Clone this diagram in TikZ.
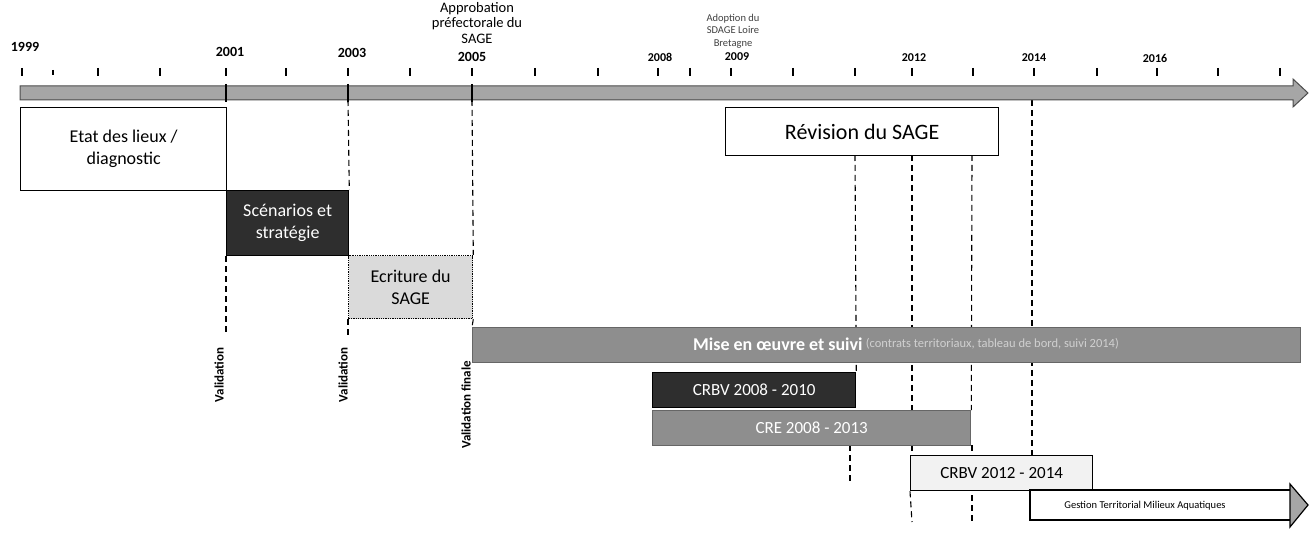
\documentclass[tikz,border=0pt]{standalone}
\usepackage{fontspec}
\setmainfont{Carlito}
\usetikzlibrary{calc,backgrounds}
\definecolor{barcol}{HTML}{A6A6A6}
\definecolor{darkbox}{HTML}{2E2E2E}
\definecolor{midbox}{HTML}{8E8E8E}
\definecolor{lightbox}{HTML}{DADADA}
\definecolor{paletext}{HTML}{D0D0D0}
\tikzset{
  box/.style={draw=black, line width=1.3pt, inner sep=0pt, anchor=north west, align=center},
  guide/.style={draw=black, line width=1.1pt, dash pattern=on 6pt off 4pt},
  year/.style={font=\bfseries\fontsize{14}{14}\selectfont, inner sep=0pt},
  smallyear/.style={font=\bfseries\fontsize{12}{12}\selectfont, inner sep=0pt},
  tickmark/.style={line width=1.3pt},
  valid/.style={rotate=90, font=\bfseries\fontsize{13}{13}\selectfont, inner sep=0pt},
  boxtext/.style={font=\fontsize{18}{22}\selectfont},
}
\begin{document}
\begin{tikzpicture}[x=1pt,y=-1pt]
\useasboundingbox (0,0) rectangle (1315,537);
% timeline arrow
\filldraw[fill=barcol, draw=black!70, line width=1pt]
  (20,86) -- (1293,86) -- (1293,79) -- (1308,93) -- (1293,107) -- (1293,100) -- (20,100) -- cycle;
% ticks
\foreach \x in {22,98,160,226,286,348,410,472,535,598,658,690,731,793,855,912,973,1034,1097,1157,1218,1280}
  \draw[tickmark] (\x,68) -- (\x,76);
\draw[tickmark] (53,70) -- (53,75);
\foreach \x in {226,348,472}
  \draw[line width=1.5pt] (\x,84) -- (\x,102);
% year labels
\node[year] (y1999) at (25,47) {1999};
\node[year] (y2001) at (230,52) {2001};
\node[year] (y2003) at (352,53) {2003};
\node[year] (y2005) at (472,57) {2005};
\node[smallyear] (y2008) at (660,57) {2008};
\node[smallyear] (y2009) at (737,57) {2009};
\node[smallyear] (y2012) at (914,58) {2012};
\node[smallyear] (y2014) at (1034,58) {2014};
\node[smallyear] (y2016) at (1155,58) {2016};
% top annotations
\node[font=\fontsize{14.5}{15.5}\selectfont, align=center, inner sep=0pt] (appro) at (477,23)
  {Approbation\\préfectorale du\\SAGE};
\node[font=\fontsize{10.5}{12.5}\selectfont, align=center, inner sep=0pt, text=black!75] (sdage) at (733,31)
  {Adoption du\\SDAGE Loire\\Bretagne};
% phase boxes
\node[box, fill=white, minimum width=206pt, minimum height=83pt, boxtext] (etat) at (20,107)
  {Etat des lieux /\\diagnostic};
\node[box, fill=darkbox, text=white, minimum width=122pt, minimum height=65pt, boxtext] (scen) at (226,190)
  {Scénarios et\\stratégie};
\node[box, fill=lightbox, densely dotted, minimum width=124pt, minimum height=63pt, boxtext] (ecr) at (348,255)
  {Ecriture du\\SAGE};
\node[box, fill=white, minimum width=273pt, minimum height=48pt, font=\fontsize{22}{22}\selectfont] (rev) at (725,107)
  {Révision du SAGE};
\node[box, draw=black!60, fill=midbox, minimum width=828pt, minimum height=35pt] (mise) at (472,327) {};
\node[font=\bfseries\fontsize{18}{18}\selectfont, text=white, anchor=west, inner sep=0pt] (misetxt) at (693,344)
  {Mise en œuvre et suivi};
\node[font=\fontsize{12.5}{12.5}\selectfont, text=paletext, anchor=west, inner sep=0pt] (misetxt2) at (misetxt.east)
  {~(contrats territoriaux, tableau de bord, suivi 2014)};
\node[box, draw=black, fill=darkbox, text=white, minimum width=203pt, minimum height=35pt, font=\fontsize{17}{17}\selectfont] (crbva) at (652,372)
  {CRBV 2008 - 2010};
\node[box, draw=black!60, fill=midbox, text=white, minimum width=318pt, minimum height=35pt, font=\fontsize{17}{17}\selectfont] (cre) at (652,410)
  {CRE 2008 - 2013};
\node[box, fill=black!5, minimum width=182pt, minimum height=35pt, font=\fontsize{17}{17}\selectfont] (crbvb) at (910,455)
  {CRBV 2012 - 2014};
% gestion arrow
\draw[line width=1.3pt, fill=white] (1030,490) -- (1292,490) -- (1292,520) -- (1030,520) -- cycle;
\filldraw[fill=barcol, draw=black, line width=1.2pt] (1290,484) -- (1308,505) -- (1290,527) -- cycle;
\node[font=\fontsize{10.5}{10.5}\selectfont, inner sep=0pt] (gest) at (1145,506) {Gestion Territorial Milieux Aquatiques};
% guide coordinates
\coordinate (b2003) at (348,100);
\coordinate (b2005) at (472,100);
\coordinate (b2014) at (1032,100);
\coordinate (e2001) at (226,335);
\coordinate (e2003) at (348,335);
\coordinate (r1) at (855,155);
\coordinate (r2) at (912,155);
\coordinate (r3) at (972,155);
\coordinate (c1) at (850,445);
\coordinate (c1e) at (850,482);
\coordinate (c2e) at (912,522);
\coordinate (c3e) at (972,522);
\coordinate (c3) at (972,445);
\coordinate (g2) at (912,455);
\coordinate (g4) at (1032,490);
% dashed guides (behind boxes)
\begin{scope}[on background layer]
\draw[guide] (scen.south west) -- (e2001);
\draw[guide] (b2003) -- (scen.north east);
\draw[guide] (ecr.south west) -- (e2003);
\draw[guide] (b2005) -- (ecr.north east);
\draw[guide] (ecr.south east) -- (mise.north west);
\draw[guide] (r1) -- (crbva.north east);
\draw[guide] (c1) -- (c1e);
\draw[guide] (r2) -- (g2);
\draw[guide] (crbvb.south west) -- (c2e);
\draw[guide] (r3) -- (cre.north east);
\draw[guide] (c3) -- (c3e);
\draw[guide] (b2014) -- (g4);
\end{scope}
% validations
\node[valid] (v1) at (219,375) {Validation};
\node[valid] (v2) at (343,375) {Validation};
\node[valid] (v3) at (466,405) {Validation finale};
\end{tikzpicture}
\end{document}
